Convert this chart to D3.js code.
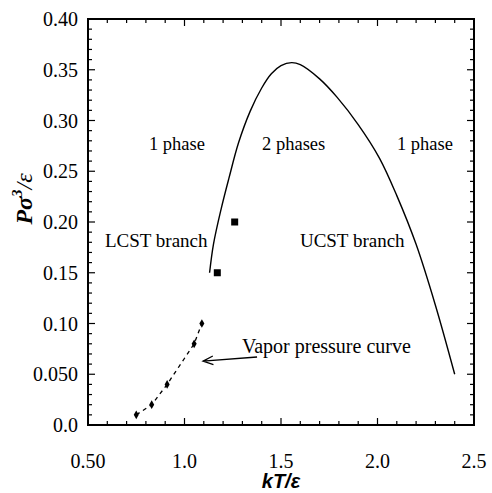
<!DOCTYPE html>
<html lang="en">
<head>
<meta charset="UTF-8">
<title>Phase diagram</title>
<script src="https://d3js.org/d3.v7.min.js"></script>
<style>
  body { margin: 0; background: #fff; }
  svg text { font-family: "Liberation Serif", "DejaVu Serif", serif; fill: #000; }
</style>
</head>
<body>
<svg id="chart" width="492" height="493"></svg>
<script>
// coexistence curve (kT/eps, P sigma^3/eps)
const curveT = [1.13, 1.15, 1.19, 1.23, 1.28, 1.34, 1.40, 1.45, 1.50, 1.555, 1.60, 1.70, 1.79, 1.90, 2.01, 2.10, 2.20, 2.30, 2.40];
const curveP = [0.150, 0.178, 0.213, 0.243, 0.278, 0.309, 0.332, 0.346, 0.354, 0.357, 0.355, 0.341, 0.323, 0.296, 0.263, 0.226, 0.178, 0.118, 0.050];

// vapor pressure points
const vaporT = [0.75, 0.83, 0.91, 1.05, 1.09];
const vaporP = [0.010, 0.020, 0.040, 0.080, 0.100];

// square points
const squareT = [1.17, 1.26];
const squareP = [0.150, 0.200];

const xTicks = [0.5, 1.0, 1.5, 2.0, 2.5];
const xTickLabels = ["0.50", "1.0", "1.5", "2.0", "2.5"];
const yTicks = [0, 0.05, 0.10, 0.15, 0.20, 0.25, 0.30, 0.35, 0.40];
const yTickLabels = ["0.0", "0.050", "0.10", "0.15", "0.20", "0.25", "0.30", "0.35", "0.40"];

// annotations: text, x, y (data coords of start / baseline)
const labelText = ["1 phase", "2 phases", "1 phase", "LCST branch", "UCST branch", "Vapor pressure curve"];
const labelT = [0.816, 1.402, 2.101, 0.588, 1.598, 1.298];
const labelP = [0.271, 0.271, 0.271, 0.175, 0.175, 0.071];
const labelSize = [18.5, 18.5, 18.5, 19, 19, 20];

const margin = { left: 88, right: 18, top: 19, bottom: 68 };
const W = 492, H = 493;
const svg = d3.select("#chart");

const x = d3.scaleLinear().domain([0.5, 2.5]).range([margin.left, W - margin.right]);
const y = d3.scaleLinear().domain([0, 0.4]).range([H - margin.bottom, margin.top]);

// ticks (inward, all four sides)
const minorX = d3.range(0.5, 2.5001, 0.1);
const minorY = d3.range(0, 0.4001, 0.01);
const isMajor = (v, step) => Math.abs(v / step - Math.round(v / step)) < 1e-6;

const tg = svg.append("g").attr("stroke", "#000").attr("stroke-width", 1.2);
minorX.forEach(v => {
  const len = isMajor(v, 0.5) ? 7 : 4;
  tg.append("line").attr("x1", x(v)).attr("x2", x(v)).attr("y1", y(0)).attr("y2", y(0) - len);
  tg.append("line").attr("x1", x(v)).attr("x2", x(v)).attr("y1", y(0.4)).attr("y2", y(0.4) + len);
});
minorY.forEach(v => {
  const len = isMajor(v, 0.05) ? 7 : 4;
  tg.append("line").attr("y1", y(v)).attr("y2", y(v)).attr("x1", x(0.5)).attr("x2", x(0.5) + len);
  tg.append("line").attr("y1", y(v)).attr("y2", y(v)).attr("x1", x(2.5)).attr("x2", x(2.5) - len);
});

// frame
svg.append("rect")
  .attr("x", x(0.5)).attr("y", y(0.4))
  .attr("width", x(2.5) - x(0.5)).attr("height", y(0) - y(0.4))
  .attr("fill", "none").attr("stroke", "#000").attr("stroke-width", 2);

// tick labels
svg.append("g").selectAll("text").data(xTicks).join("text")
  .attr("x", d => x(d)).attr("y", y(0) + 43)
  .attr("text-anchor", "middle").attr("font-size", 20)
  .attr("font-family", "Liberation Serif, serif")
  .text((d, i) => xTickLabels[i]);

svg.append("g").selectAll("text").data(yTicks).join("text")
  .attr("x", x(0.5) - 10).attr("y", d => y(d) + 7)
  .attr("text-anchor", "end").attr("font-size", 20)
  .attr("font-family", "Liberation Serif, serif")
  .text((d, i) => yTickLabels[i]);

// axis titles
svg.append("text")
  .attr("x", x(1.5)).attr("y", 488)
  .attr("text-anchor", "middle")
  .style("font-family", "'Liberation Sans', Arial, sans-serif")
  .attr("font-size", 20).attr("font-weight", "bold").attr("font-style", "italic")
  .text("kT/ε");

const yt = svg.append("text")
  .attr("transform", "translate(32,199) rotate(-90)")
  .attr("text-anchor", "middle")
  .attr("font-size", 24).attr("font-weight", "bold").attr("font-style", "italic");
yt.append("tspan").text("Pσ");
yt.append("tspan").attr("font-size", 15).attr("dy", -10).text("3");
yt.append("tspan").attr("font-weight", "normal").attr("dy", 10).text("/ε");

// coexistence curve
const line = d3.line().x(d => x(d[0])).y(d => y(d[1])).curve(d3.curveCatmullRom);
svg.append("path")
  .datum(curveT.map((t, i) => [t, curveP[i]]))
  .attr("d", line)
  .attr("fill", "none").attr("stroke", "#000").attr("stroke-width", 1.4);

// vapor pressure dashed curve
const vapor = vaporT.map((t, i) => [t, vaporP[i]]);
svg.append("path")
  .datum(vapor)
  .attr("d", d3.line().x(d => x(d[0])).y(d => y(d[1])))
  .attr("fill", "none").attr("stroke", "#000").attr("stroke-width", 1.3)
  .attr("stroke-dasharray", "4,4");

svg.append("g").selectAll("path").data(vapor).join("path")
  .attr("d", d3.symbol(d3.symbolDiamond, 22))
  .attr("transform", d => `translate(${x(d[0])},${y(d[1])})`)
  .attr("fill", "#000");

// squares
svg.append("g").selectAll("rect").data(squareT).join("rect")
  .attr("x", d => x(d) - 3.5).attr("y", (d, i) => y(squareP[i]) - 3.5)
  .attr("width", 7).attr("height", 7).attr("fill", "#000");

// labels
svg.append("g").selectAll("text").data(labelText).join("text")
  .attr("x", (d, i) => x(labelT[i])).attr("y", (d, i) => y(labelP[i]))
  .attr("font-size", (d, i) => labelSize[i])
  .attr("font-family", "Liberation Serif, serif")
  .text(d => d);

// arrow to vapor curve
const tail = [1.376, 0.067], tip = [1.096, 0.063];
const ax1 = x(tail[0]), ay1 = y(tail[1]), ax2 = x(tip[0]), ay2 = y(tip[1]);
const ang = Math.atan2(ay2 - ay1, ax2 - ax1);
const head = 11, spread = 0.4;
svg.append("path")
  .attr("d", `M${ax1},${ay1}L${ax2},${ay2}` +
    `M${ax2 - head * Math.cos(ang - spread)},${ay2 - head * Math.sin(ang - spread)}L${ax2},${ay2}` +
    `L${ax2 - head * Math.cos(ang + spread)},${ay2 - head * Math.sin(ang + spread)}`)
  .attr("fill", "none").attr("stroke", "#000").attr("stroke-width", 1.3);
</script>
</body>
</html>
